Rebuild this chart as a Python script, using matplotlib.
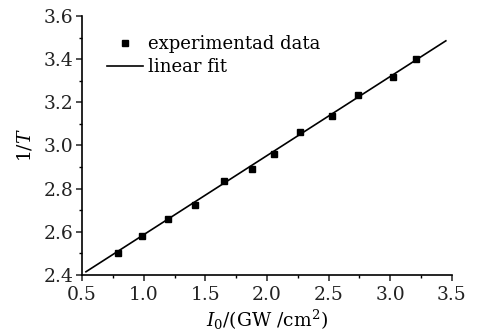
import matplotlib
matplotlib.use("Agg")
import matplotlib.pyplot as plt
from matplotlib.ticker import MultipleLocator

x_data = [0.79, 0.99, 1.20, 1.42, 1.654, 1.876, 2.057, 2.268, 2.525, 2.736, 3.02, 3.206]
y_data = [2.50, 2.58, 2.658, 2.724, 2.835, 2.889, 2.962, 3.061, 3.138, 3.236, 3.318, 3.401]
fit_x = [0.532, 3.45]
fit_y = [2.415, 3.485]

plt.rcParams['font.family'] = 'DejaVu Serif'
plt.rcParams['mathtext.fontset'] = 'dejavuserif'

fig = plt.figure(figsize=(4.81, 3.36), dpi=100)
ax = fig.add_axes([82/481, 1-275/336, (452-82)/481, (275-16)/336])

ax.plot(x_data, y_data, 's', color='black', markersize=5, label='experimentad data', zorder=3)
ax.plot(fit_x, fit_y, '-', color='black', linewidth=1.2, label='linear fit')

ax.set_xlim(0.5, 3.5)
ax.set_ylim(2.4, 3.6)
ax.xaxis.set_major_locator(MultipleLocator(0.5))
ax.xaxis.set_minor_locator(MultipleLocator(0.25))
ax.yaxis.set_major_locator(MultipleLocator(0.2))
ax.yaxis.set_minor_locator(MultipleLocator(0.1))
ax.xaxis.set_major_formatter(plt.FuncFormatter(lambda v, p: f"{v:.1f}"))
ax.yaxis.set_major_formatter(plt.FuncFormatter(lambda v, p: f"{v:.1f}"))

for s in ['top', 'right']:
    ax.spines[s].set_visible(False)
for s in ['left', 'bottom']:
    ax.spines[s].set_linewidth(1.2)

ax.tick_params(which='major', direction='out', length=4, width=1.1, labelsize=13.5, colors='#222222')
ax.tick_params(axis='x', which='major', pad=4)
ax.tick_params(axis='y', which='major', pad=2)
ax.tick_params(which='minor', direction='out', length=2.5, width=1)

ax.set_ylabel(r'$1/\mathit{T}$', fontsize=13.5, labelpad=7)
ax.set_xlabel(r'$\mathit{I}_0$/(GW /cm$^2$)', fontsize=13.5, labelpad=3)

leg = ax.legend(loc='upper left', bbox_to_anchor=(0.047, 0.955), frameon=False, fontsize=13,
                handlelength=2.0, handletextpad=0.3, labelspacing=0.3, borderaxespad=0)

fig.savefig('out.png', dpi=100)
